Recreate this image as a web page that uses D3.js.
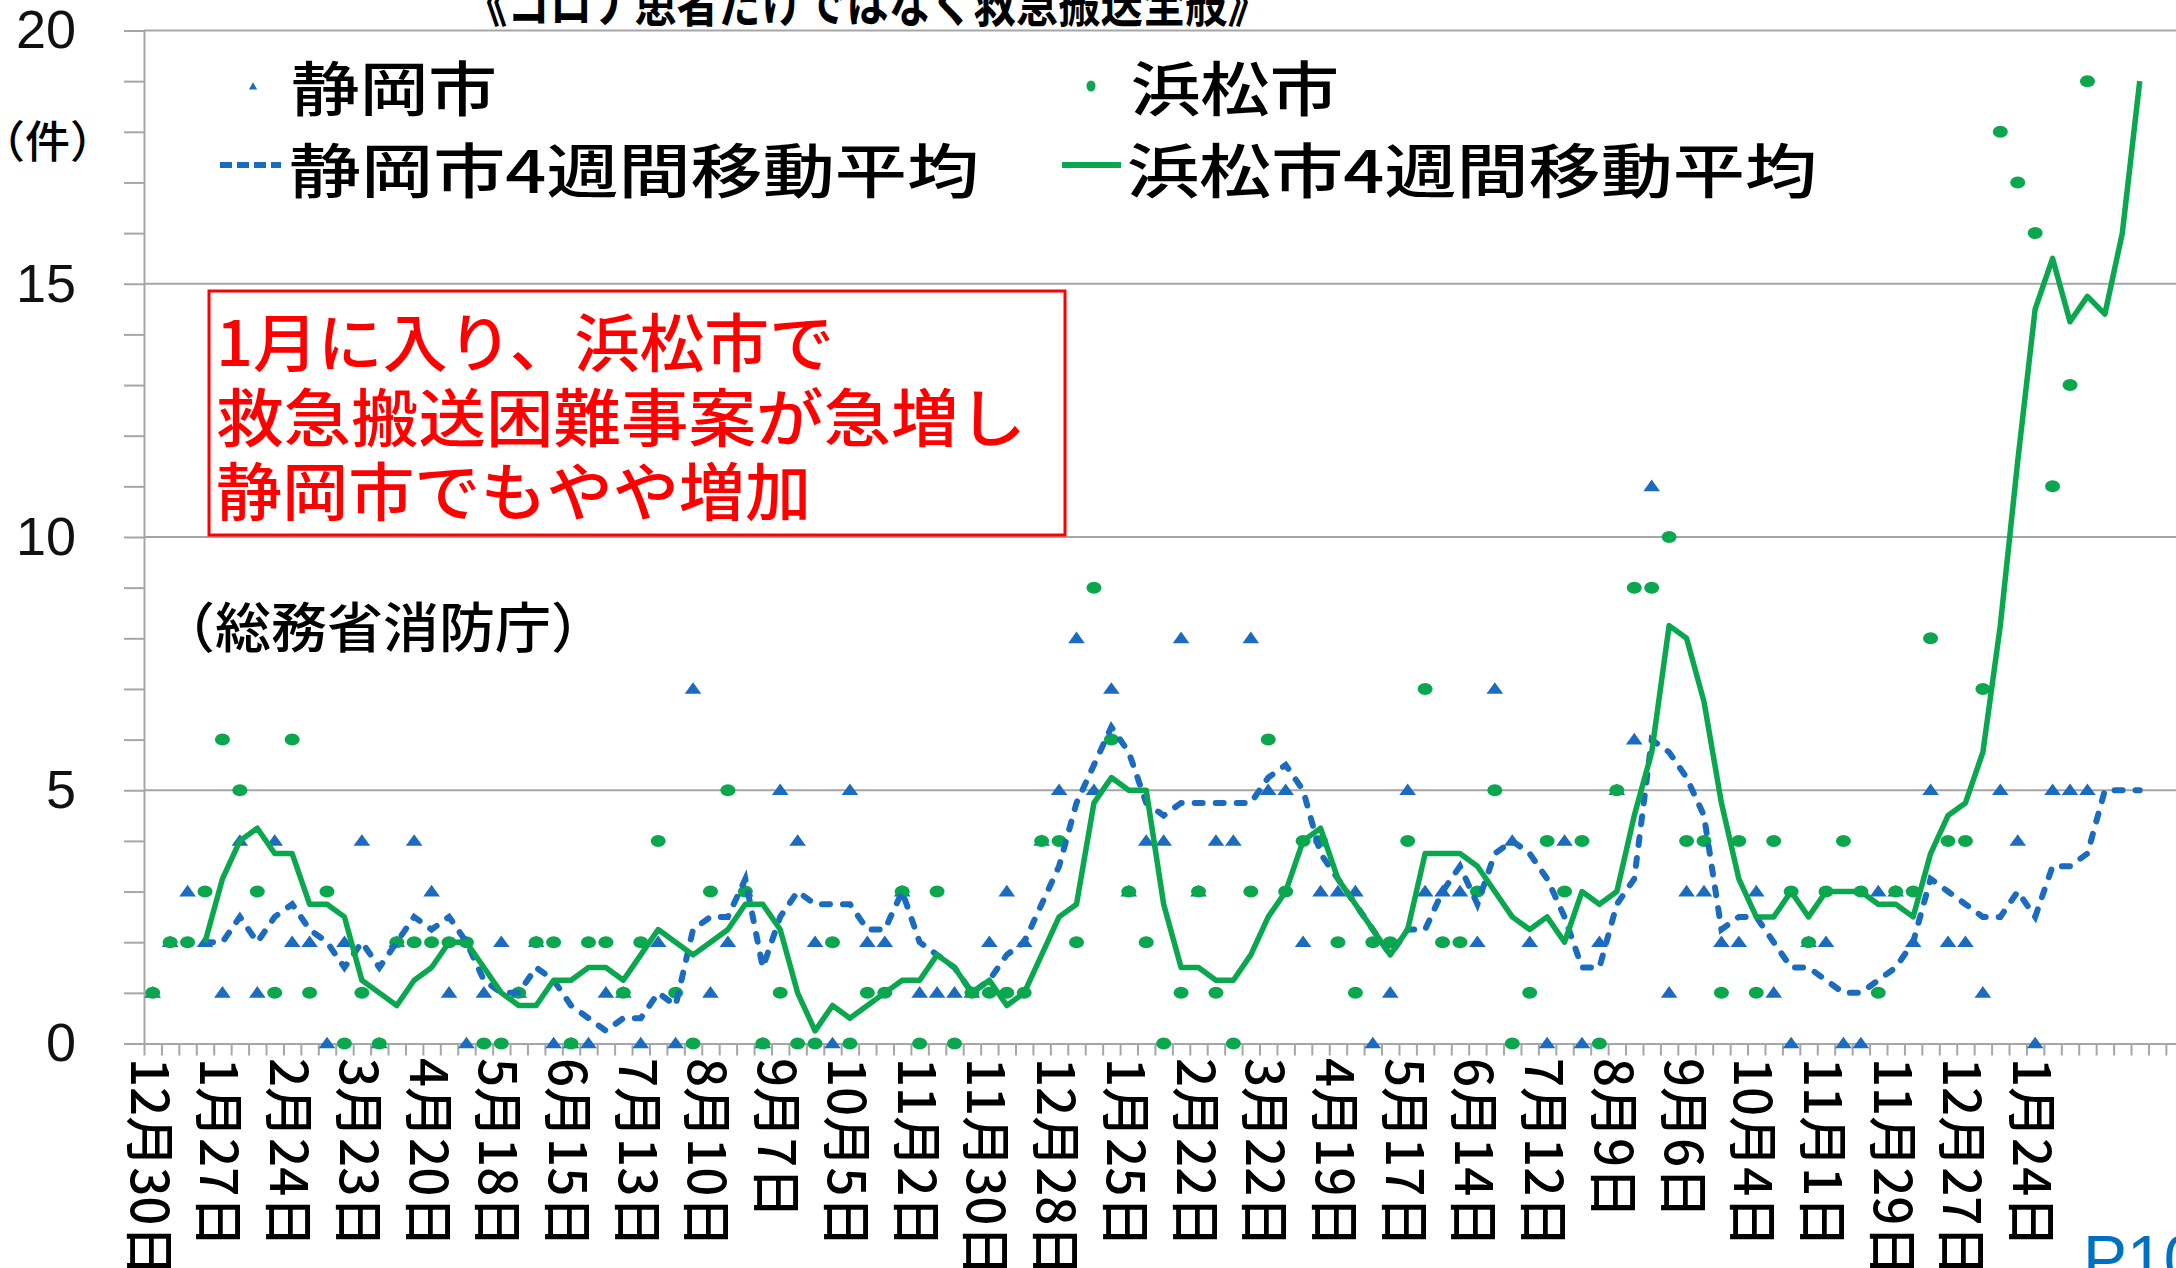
<!DOCTYPE html>
<html>
<head>
<meta charset="utf-8">
<script src="https://cdn.jsdelivr.net/npm/d3@7"></script>
<style>
  body { margin: 0; background: #fff; }
  svg { display: block; }
  text { font-family: "Noto Sans CJK JP", sans-serif; }
</style>
</head>
<body>
<div id="chart"></div>
<script>
// labels shown every 4 weeks, starting with week 0
var weekLabels = ["12月30日", "1月27日", "2月24日", "3月23日", "4月20日", "5月18日", "6月15日",
    "7月13日", "8月10日", "9月7日", "10月5日", "11月2日", "11月30日", "12月28日", "1月25日",
    "2月22日", "3月22日", "4月19日", "5月17日", "6月14日", "7月12日", "8月9日", "9月6日",
    "10月4日", "11月1日", "11月29日", "12月27日", "1月24日"];

// weekly counts, 静岡市
var shizuoka = [1, 2, 3, 2, 1, 4, 1, 4, 2, 2, 0, 2, 4, 0, 2, 4, 3, 1, 0, 1,
    2, 1, 2, 0, 0, 0, 1, 1, 0, 2, 0, 7, 1, 2, 3, 0, 5, 4, 2, 0,
    5, 2, 2, 3, 1, 1, 1, 1, 2, 3, 2, 4, 5, 8, 5, 7, 3, 4, 4, 8,
    3, 4, 4, 8, 5, 5, 2, 3, 3, 3, 0, 1, 5, 3, 3, 3, 2, 7, 4, 2,
    0, 4, 0, 2, 5, 6, 11, 1, 3, 3, 2, 2, 3, 1, 0, 2, 2, 0, 0, 3,
    3, 2, 5, 2, 2, 1, 5, 4, 0, 5, 5, 5];

// weekly counts, 浜松市
var hamamatsu = [1, 2, 2, 3, 6, 5, 3, 1, 6, 1, 3, 0, 1, 0, 2, 2, 2, 2, 2, 0,
    0, 1, 2, 2, 0, 2, 2, 1, 2, 4, 1, 0, 3, 5, 3, 0, 1, 0, 0, 2,
    0, 1, 1, 3, 0, 3, 0, 1, 1, 1, 1, 4, 4, 2, 9, 6, 3, 2, 0, 1,
    3, 1, 0, 3, 6, 3, 4, 4, 2, 1, 2, 2, 4, 7, 2, 2, 3, 5, 0, 1,
    4, 3, 4, 0, 5, 9, 9, 10, 4, 4, 1, 4, 1, 4, 3, 2, 3, 4, 3, 1,
    3, 3, 8, 4, 4, 7, 18, 17, 16, 11, 13, 19];

// 4 week moving averages, from week 3
var shizuokaAvg = [null, null, null, 2, 2, 2.5, 2, 2.5, 2.75, 2.25, 2, 1.5, 2, 1.5, 2, 2.5, 2.25, 2.5, 2, 1.25,
    1, 1, 1.5, 1.25, 0.75, 0.5, 0.25, 0.5, 0.5, 1, 0.75, 2.25, 2.5, 2.5, 3.25, 1.5, 2.5, 3, 2.75, 2.75,
    2.75, 2.25, 2.25, 3, 2, 1.75, 1.5, 1, 1.25, 1.75, 2, 2.75, 3.5, 4.75, 5.5, 6.25, 5.75, 4.75, 4.5, 4.75,
    4.75, 4.75, 4.75, 4.75, 5.25, 5.5, 5, 3.75, 3.25, 2.75, 2.25, 1.75, 2.25, 2.25, 3, 3.5, 2.75, 3.75, 4, 3.75,
    3.25, 2.5, 1.5, 1.5, 2.75, 3.25, 6, 5.75, 5.25, 4.5, 2.25, 2.5, 2.5, 2, 1.5, 1.5, 1.25, 1, 1, 1.25,
    1.5, 2, 3.25, 3, 2.75, 2.5, 2.5, 3, 2.5, 3.5, 3.5, 3.75, 5, 5, 5];

var hamamatsuAvg = [null, null, null, 2, 3.25, 4, 4.25, 3.75, 3.75, 2.75, 2.75, 2.5, 1.25, 1, 0.75, 1.25, 1.5, 2, 2, 1.5,
    1, 0.75, 0.75, 1.25, 1.25, 1.5, 1.5, 1.25, 1.75, 2.25, 2, 1.75, 2, 2.25, 2.75, 2.75, 2.25, 1, 0.25, 0.75,
    0.5, 0.75, 1, 1.25, 1.25, 1.75, 1.5, 1, 1.25, 0.75, 1, 1.75, 2.5, 2.75, 4.75, 5.25, 5, 5, 2.75, 1.5,
    1.5, 1.25, 1.25, 1.75, 2.5, 3, 4, 4.25, 3.25, 2.75, 2.25, 1.75, 2.25, 3.75, 3.75, 3.75, 3.5, 3, 2.5, 2.25,
    2.5, 2, 3, 2.75, 3, 4.5, 5.75, 8.25, 8, 6.75, 4.75, 3.25, 2.5, 2.5, 3, 2.5, 3, 3, 3, 2.75,
    2.75, 2.5, 3.75, 4.5, 4.75, 5.75, 8.25, 11.5, 14.5, 15.5, 14.25, 14.75, 14.4, 16, 19];

var yLabels = [0, 5, 10, 15, 20];

var blue = "#1b6cbf";
var green = "#0aa74f";
var grey = "#a6a6a6";

var W = 2176, H = 1268;
var nWeeks = 120;
var plotLeft = 144, plotTop = 30.5, plotBottom = 1043.5, bandW = 17.43;

var svg = d3.select("#chart").append("svg")
    .attr("width", W)
    .attr("height", H);

var x = d3.scaleBand()
    .domain(d3.range(nWeeks))
    .range([plotLeft, plotLeft + bandW * nWeeks]);
var xEdge = d3.scaleLinear()
    .domain([0, nWeeks])
    .range([plotLeft, plotLeft + bandW * nWeeks]);
var y = d3.scaleLinear().domain([0, 20]).range([plotBottom, plotTop]);

function cx(i){
    return x(i) + x.bandwidth() / 2;
}

// gridlines
svg.append("g").selectAll("line")
    .data(yLabels.slice(1)).enter().append("line")
    .attr("x1", plotLeft).attr("x2", W)
    .attr("y1", function(d){ return y(d); })
    .attr("y2", function(d){ return y(d); })
    .attr("stroke", grey).attr("stroke-width", 2);

// y axis, a tick on every count
var yAxis = svg.append("g")
    .attr("transform", "translate(" + plotLeft + ",0)")
    .call(d3.axisLeft(y)
        .tickValues(d3.range(0, 21))
        .tickSize(20)
        .tickSizeOuter(0)
        .tickPadding(48)
        .tickFormat(function(d){ return yLabels.indexOf(d) >= 0 ? d : ""; }));
yAxis.selectAll("line, path").attr("stroke", grey).attr("stroke-width", 2);
yAxis.selectAll("text")
    .style("font-family", "'Liberation Sans', Arial, sans-serif")
    .style("font-size", "54px")
    .attr("fill", "#111");

// x axis, ticks between weeks
var xAxis = svg.append("g")
    .attr("transform", "translate(0," + plotBottom + ")")
    .call(d3.axisBottom(xEdge)
        .tickValues(d3.range(0, nWeeks + 1))
        .tickSize(12)
        .tickSizeOuter(0)
        .tickFormat(""));
xAxis.selectAll("line, path").attr("stroke", grey).attr("stroke-width", 2);

// rotated week labels
svg.append("g").selectAll("text")
    .data(weekLabels).enter().append("text")
    .attr("transform", function(d, k){
        return "translate(" + cx(k * 4) + "," + 1058 + ") rotate(90)";
    })
    .attr("dominant-baseline", "central")
    .style("font-size", "51px")
    .style("font-weight", 500)
    .attr("fill", "#000")
    .text(function(d){ return d; });

// markers
var tri = d3.symbol().type(d3.symbolTriangle).size(96);
svg.append("g").selectAll("path")
    .data(shizuoka).enter().append("path")
    .attr("d", tri)
    .attr("transform", function(d, i){
        return "translate(" + cx(i) + "," + (y(d) + 1) + ") scale(1.12,0.9)";
    })
    .attr("fill", blue);

svg.append("g").selectAll("ellipse")
    .data(hamamatsu).enter().append("ellipse")
    .attr("cx", function(d, i){ return cx(i); })
    .attr("cy", function(d){ return y(d); })
    .attr("rx", 7.5).attr("ry", 6)
    .attr("fill", green);

// moving averages
function avgLine(){
    return d3.line()
        .defined(function(d){ return d != null; })
        .x(function(d, i){ return cx(i); })
        .y(function(d){ return y(d); });
}

svg.append("path")
    .datum(shizuokaAvg)
    .attr("d", avgLine())
    .attr("fill", "none")
    .attr("stroke", blue)
    .attr("stroke-width", 6)
    .attr("stroke-linecap", "round")
    .attr("stroke-dasharray", "8,13");

svg.append("path")
    .datum(hamamatsuAvg)
    .attr("d", avgLine())
    .attr("fill", "none")
    .attr("stroke", green)
    .attr("stroke-width", 5.5)
    .attr("stroke-linejoin", "round");

// title, cut off at the top of the page
svg.append("text")
    .attr("x", 465).attr("y", 22)
    .attr("textLength", 805).attr("lengthAdjust", "spacingAndGlyphs")
    .style("font-size", "52px")
    .style("font-weight", 700)
    .attr("fill", "#000")
    .text("《コロナ患者だけではなく救急搬送全般》");

// unit
svg.append("text")
    .attr("x", -20).attr("y", 158)
    .attr("textLength", 135).attr("lengthAdjust", "spacingAndGlyphs")
    .style("font-size", "44px")
    .style("font-weight", 500)
    .attr("fill", "#000")
    .text("（件）");

// legend
var legend = svg.append("g");
legend.append("path")
    .attr("d", d3.symbol().type(d3.symbolTriangle).size(30))
    .attr("transform", "translate(253,87)")
    .attr("fill", blue);
legend.append("ellipse")
    .attr("cx", 1091).attr("cy", 86).attr("rx", 4.5).attr("ry", 5.5)
    .attr("fill", green);
legend.append("line")
    .attr("x1", 220).attr("x2", 281).attr("y1", 165).attr("y2", 165)
    .attr("stroke", blue).attr("stroke-width", 6)
    .attr("stroke-dasharray", "12,5");
legend.append("line")
    .attr("x1", 1062).attr("x2", 1121).attr("y1", 165).attr("y2", 165)
    .attr("stroke", green).attr("stroke-width", 6);

var legendItems = [
    {t: "静岡市", x: 291, y: 111, w: 206},
    {t: "浜松市", x: 1131, y: 111, w: 208},
    {t: "静岡市4週間移動平均", x: 289, y: 193, w: 690},
    {t: "浜松市4週間移動平均", x: 1127, y: 193, w: 690}
];
legend.selectAll("text")
    .data(legendItems).enter().append("text")
    .attr("x", function(d){ return d.x; })
    .attr("y", function(d){ return d.y; })
    .attr("textLength", function(d){ return d.w; })
    .attr("lengthAdjust", "spacingAndGlyphs")
    .style("font-size", "59px")
    .style("font-weight", 500)
    .attr("fill", "#000")
    .text(function(d){ return d.t; });

// red note box
var note = svg.append("g");
note.append("rect")
    .attr("x", 209).attr("y", 291)
    .attr("width", 856).attr("height", 244)
    .attr("fill", "#fff")
    .attr("stroke", "#ff0000").attr("stroke-width", 3);
var noteLines = [
    {t: "1月に入り、浜松市で", y: 366, w: 618},
    {t: "救急搬送困難事案が急増し", y: 441, w: 810},
    {t: "静岡市でもやや増加", y: 515, w: 595}
];
note.selectAll("text")
    .data(noteLines).enter().append("text")
    .attr("x", 216)
    .attr("y", function(d){ return d.y; })
    .attr("textLength", function(d){ return d.w; })
    .attr("lengthAdjust", "spacingAndGlyphs")
    .style("font-size", "63px")
    .style("font-weight", 500)
    .attr("fill", "#ff0000")
    .text(function(d){ return d.t; });

// source
svg.append("text")
    .attr("x", 159).attr("y", 648)
    .attr("textLength", 448).attr("lengthAdjust", "spacingAndGlyphs")
    .style("font-size", "54px")
    .style("font-weight", 500)
    .attr("fill", "#000")
    .text("（総務省消防庁）");

// page number, cut off at the edge
svg.append("text")
    .attr("x", 2083).attr("y", 1282)
    .style("font-family", "'Liberation Sans', Arial, sans-serif")
    .style("font-size", "66px")
    .attr("fill", "#0070c0")
    .text("P10");
</script>
</body>
</html>
